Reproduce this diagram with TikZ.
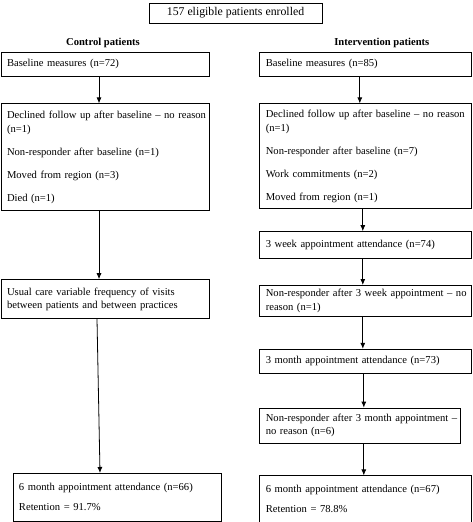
\documentclass[tikz,border=0pt]{standalone}
\usepackage{fontspec}
\setmainfont{Liberation Serif}
\usepackage{tikz}
\usetikzlibrary{arrows.meta,positioning}

\begin{document}
\begin{tikzpicture}[x=1pt,y=1pt,>={Latex[length=6pt,width=5pt]},
    font=\fontsize{10.6}{13.5}\selectfont,
    flowbox/.style={draw,line width=0.8pt,rectangle,align=left,inner xsep=6pt,inner ysep=2pt},
    cbox/.style={flowbox,text width=196pt},
    ibox/.style={flowbox,text width=200pt},
    head/.style={font=\fontsize{10.6}{13.5}\selectfont\bfseries,inner sep=0pt},
    every edge/.style={draw,line width=0.8pt}]
      \useasboundingbox (0,0) rectangle (473,-522);

      \node[draw,line width=0.8pt,minimum width=173pt,minimum height=20pt,font=\fontsize{11.8}{14}\selectfont] (enrol) at (235.5,-13) {157 eligible patients enrolled};

      \node[cbox,minimum height=24pt] (cbase) at (105,-64) {Baseline measures (n=72)};
      \node[head] (chead) [above=4pt of cbase,xshift=-2pt] {Control patients};
      \node[ibox,minimum height=24pt] (ibase) [right=50pt of cbase] {Baseline measures (n=85)};
      \node[head] (ihead) [above=4pt of ibase,xshift=16pt] {Intervention patients};

      \node[cbox,minimum height=107pt] (cdecl) [below=27pt of cbase] {
        \begin{tabular}{@{}l@{}}
          Declined follow up after baseline -- no reason\\
          (n=1)\\[9.5pt]
          Non-responder after baseline (n=1)\\[9.5pt]
          Moved from region (n=3)\\[9.5pt]
          Died (n=1)
        \end{tabular}
      };
      \node[ibox,minimum height=105pt] (idecl) [below=27pt of ibase] {
        \begin{tabular}{@{}l@{}}
          Declined follow up after baseline -- no reason\\
          (n=1)\\[9.5pt]
          Non-responder after baseline (n=7)\\[9.5pt]
          Work commitments (n=2)\\[9.5pt]
          Moved from region (n=1)
        \end{tabular}
      };

      \node[cbox,minimum height=39pt] (cusual) [below=68pt of cdecl] {
        \begin{tabular}{@{}l@{}}
          Usual care variable frequency of visits\\
          between patients and between practices
        \end{tabular}
      };
      \node[cbox,minimum height=48pt] (cfinal) [below=154pt of cusual,xshift=12pt] {
        \begin{tabular}{@{}l@{}}
          6 month appointment attendance (n=66)\\[6.5pt]
          Retention = 91.7\%
        \end{tabular}
      };

      \node[ibox,minimum height=27pt] (iweek) [below=22pt of idecl] {3 week appointment attendance (n=74)};
      \node[ibox,minimum height=30pt] (inoweek) [below=26pt of iweek] {
        \begin{tabular}{@{}l@{}}
          Non-responder after 3 week appointment -- no\\
          reason (n=1)
        \end{tabular}
      };
      \node[ibox,minimum height=24pt] (imonth) [below=32pt of inoweek] {3 month appointment attendance (n=73)};
      \node[flowbox,text width=189pt,minimum height=35pt] (inomonth) [below=34pt of imonth.south west,anchor=north west] {
        \begin{tabular}{@{}l@{}}
          Non-responder after 3 month appointment --\\
          no reason (n=6)
        \end{tabular}
      };
      \node[ibox,minimum height=48pt] (ifinal) [below=32pt of inomonth.south west,anchor=north west] {
        \begin{tabular}{@{}l@{}}
          6 month appointment attendance (n=67)\\[6.5pt]
          Retention = 78.8\%
        \end{tabular}
      };

      \path[->] ([xshift=-6pt]cbase.south) edge ([xshift=-6pt]cdecl.north);
      \path[->] ([xshift=-6pt]cdecl.south) edge ([xshift=-6pt]cusual.north);
      \path[->] ([xshift=-8pt]cusual.south) edge ([xshift=-17pt]cfinal.north);
      \path[->] ([xshift=-6pt]ibase.south) edge ([xshift=-6pt]idecl.north);
      \path[->] ([xshift=-3pt]idecl.south) edge ([xshift=-3pt]iweek.north);
      \path[->] ([xshift=-3pt]iweek.south) edge ([xshift=-3pt]inoweek.north);
      \path[->] ([xshift=-3pt]inoweek.south) edge ([xshift=-3pt]imonth.north);
      \path[->] ([xshift=-2pt]imonth.south) edge ([xshift=-2pt]imonth.south |- inomonth.north);
      \path[->] ([xshift=-2pt]imonth.south |- inomonth.south) edge ([xshift=-2pt]ifinal.north);
    \end{tikzpicture}
\end{document}
